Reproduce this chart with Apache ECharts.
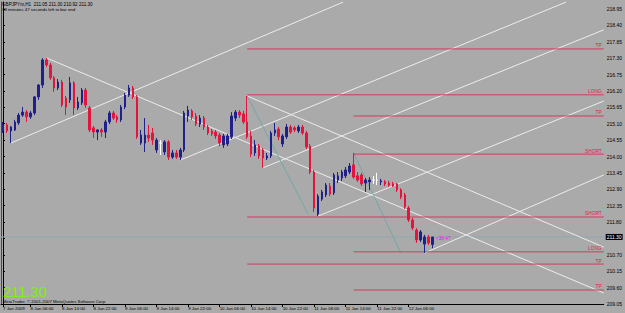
<!DOCTYPE html>
<html><head><meta charset="utf-8">
<script src="https://cdn.jsdelivr.net/npm/echarts@6/dist/echarts.min.js"></script>
<style>html,body{margin:0;padding:0;background:#aaaaaa}#c{width:625px;height:313px}</style>
</head><body><div id="c"></div>
<script>
// ---- data ----
const SLOTS = 153;
const TICK_INDEX = [0, 7, 15, 23, 31, 39, 47, 55, 63, 71, 79, 87, 95, 103];
const TICK_LABELS = ['7 Jan 2009', '8 Jan 06:00', '8 Jan 14:00', '8 Jan 22:00', '9 Jan 06:00', '9 Jan 14:00', '9 Jan 22:00',
  '10 Jan 06:00', '10 Jan 14:00', '10 Jan 22:00', '11 Jan 06:00', '11 Jan 14:00', '11 Jan 22:00', '12 Jan 06:00'];
const Y_MIN = 209.05, Y_MAX = 219.185, Y_STEP = 0.55;

const OPEN = [214.86,215.06,214.86,214.89,215.13,215.39,215.49,215.33,215.46,216.00,
  216.40,217.24,217.07,216.64,216.30,216.50,215.96,215.90,216.47,215.63,
  215.80,216.23,215.63,214.96,214.82,214.89,214.82,215.16,215.46,215.33,
  215.23,215.66,216.06,216.30,216.00,214.45,214.45,214.72,214.79,214.22,
  214.45,214.15,214.49,213.98,214.12,213.98,214.22,215.36,215.53,215.36,
  215.09,215.29,214.99,214.86,214.82,214.72,214.39,214.42,214.66,215.29,
  215.49,215.43,215.16,214.69,214.12,214.35,214.22,213.95,214.02,214.79,
  214.92,214.42,214.66,214.99,214.96,214.86,214.99,214.79,214.35,213.48,
  212.07,212.57,212.71,213.01,212.78,213.21,213.28,213.35,213.48,213.72,
  213.35,213.38,213.11,213.15,213.21,213.21,213.15,213.15,213.11,213.08,
  213.08,212.88,212.71,212.27,211.87,211.53,211.20,211.06,211.30,211.05];
const CLOSE = [215.06,214.86,214.99,215.16,215.39,215.49,215.33,215.46,216.00,216.40,
  217.24,217.07,216.64,216.30,216.50,215.73,215.66,216.47,215.63,215.83,
  216.23,215.73,214.89,214.82,214.89,214.82,215.16,215.46,215.29,215.23,
  215.66,216.06,216.30,216.00,214.66,214.72,214.72,214.62,214.55,214.55,
  214.45,214.49,213.98,214.12,213.98,214.22,215.46,215.56,215.33,215.09,
  215.29,214.99,214.79,214.76,214.69,214.45,214.69,214.69,215.36,215.49,
  215.39,215.16,214.66,214.08,214.39,214.02,213.95,214.02,214.79,214.89,
  214.66,214.69,214.99,214.82,214.89,214.99,214.79,214.32,213.48,212.27,
  212.67,212.81,213.04,212.74,213.38,213.35,213.48,213.55,213.68,213.31,
  213.21,213.08,213.21,213.21,213.21,213.21,213.18,213.08,213.04,213.01,
  212.88,212.64,212.31,211.87,211.60,211.20,211.47,211.30,211.10,211.30];
const HIGH = [215.16,215.13,215.02,215.23,215.46,215.66,215.56,215.53,216.03,216.43,
  217.30,217.31,217.14,216.70,216.60,216.57,216.03,216.67,216.53,216.00,
  216.30,216.30,215.70,215.02,214.92,214.96,215.23,215.53,215.53,215.39,
  215.73,216.13,216.40,216.37,216.06,214.89,215.29,215.06,214.96,214.62,
  214.55,214.55,214.55,214.22,214.22,214.29,215.53,215.70,215.59,215.46,
  215.39,215.36,215.06,214.92,214.89,214.79,214.76,214.76,215.49,215.56,
  215.56,215.53,216.03,214.86,214.55,214.42,214.29,214.12,214.86,215.13,
  214.99,214.76,215.09,215.06,215.02,215.06,215.06,214.86,214.42,213.55,
  212.74,212.88,213.11,213.11,213.45,213.48,213.55,213.65,213.78,214.12,
  213.48,213.45,213.28,213.31,213.35,213.45,213.25,213.21,213.18,213.15,
  213.11,212.94,212.78,212.34,211.94,211.60,211.53,211.37,211.37,211.30];
const LOW = [214.79,214.79,214.45,214.86,215.06,215.33,215.16,215.26,215.39,215.90,
  216.30,217.00,216.57,216.17,216.23,215.66,215.39,215.80,215.39,215.56,
  215.73,215.63,214.82,214.62,214.55,214.66,214.62,215.09,215.23,215.13,
  215.16,215.59,216.00,215.93,214.59,214.39,214.15,214.49,214.39,214.12,
  214.05,214.05,213.88,213.92,213.92,213.88,214.15,215.16,215.23,215.02,
  214.99,214.89,214.72,214.69,214.59,214.35,214.29,214.35,214.59,215.19,
  215.29,215.09,214.59,213.98,214.02,213.92,213.62,213.88,213.95,214.69,
  214.55,214.32,214.59,214.76,214.82,214.79,214.72,214.25,213.41,212.14,
  212.00,212.51,212.64,212.67,212.71,213.11,213.18,213.28,213.41,213.25,
  213.15,213.01,212.81,212.88,213.08,213.04,213.04,213.01,212.98,212.98,
  212.81,212.57,212.24,211.80,211.53,211.10,211.13,210.76,211.03,210.92];

// trend lines: [startIndex, startPrice, endIndex, endPrice]
const WHITE_LINES = [
  [2, 214.45, 86.4, 219.185],
  [45, 213.88, 143.0, 219.185],
  [66, 213.62, 152.5, 218.25],
  [80, 212.00, 152.5, 215.86],
  [107, 210.76, 152.5, 213.38],
  [11, 217.31, 152.5, 209.42],
  [62, 216.03, 152.5, 210.96]
];
const TEAL_LINES = [
  [62, 216.03, 77.5, 212.05],
  [89, 214.12, 101, 210.76]
];
// horizontal levels: name, price, start index
const LEVEL_NAMES = ['TP', 'LONG', 'TP', 'SHORT', 'SHORT', 'LONG', 'TP', 'TP'];
const LEVEL_PRICES = [217.61, 216.07, 215.36, 214.08, 211.97, 210.80, 210.39, 209.52];
const LEVEL_START = [62, 62, 89, 89, 62, 89, 62, 89];
const LAST_PRICE = 211.30;
const CLOCK_TEXT = '<38:47';
const CLOCK_AT = [109.9, 211.25];

// ---- chart ----
const FONT = "'Liberation Sans', Arial, sans-serif";
const BULL = '#20208a', BEAR = '#e4143c', LEVEL_COLOR = '#d23a60';
const chart = echarts.init(document.getElementById('c'), null, {renderer: 'svg', width: 625, height: 313});
const cats = Array.from({length: SLOTS}, (_, i) => 'b' + i);
const tickSet = new Set(TICK_INDEX);
const idxOf = v => parseInt(String(v).slice(1), 10);

const series = [{
  type: 'candlestick', xAxisIndex: 0, yAxisIndex: 0, barWidth: 2,
  data: OPEN.map((o, i) => [o, CLOSE[i], LOW[i], HIGH[i]]),
  itemStyle: {color: BULL, color0: BEAR, borderColor: BULL, borderColor0: BEAR, borderWidth: 1, borderColorDoji: '#ffffff'},
  silent: true, z: 3
}];
// current price line
series.push({
  type: 'line', xAxisIndex: 1, yAxisIndex: 0, silent: true, symbol: 'none', z: 1,
  data: [[-0.5, LAST_PRICE], [SLOTS - 0.5, LAST_PRICE]],
  lineStyle: {color: '#8fa9ae', width: 1},
  endLabel: {show: true, formatter: LAST_PRICE.toFixed(2), color: '#ffffff', backgroundColor: '#000000',
    fontSize: 5, fontFamily: FONT, padding: [1, 1, 0, 1], distance: 2}
});
WHITE_LINES.forEach(l => series.push({
  type: 'line', xAxisIndex: 1, yAxisIndex: 0, symbol: 'none', silent: true, z: 2,
  data: [[l[0], l[1]], [l[2], l[3]]], lineStyle: {color: '#ececec', width: 1}
}));
TEAL_LINES.forEach(l => series.push({
  type: 'line', xAxisIndex: 1, yAxisIndex: 0, symbol: 'none', silent: true, z: 2,
  data: [[l[0], l[1]], [l[2], l[3]]], lineStyle: {color: '#6fa9a6', width: 1}
}));
LEVEL_NAMES.forEach((n, k) => series.push({
  type: 'line', xAxisIndex: 1, yAxisIndex: 0, symbol: 'none', silent: true, z: 2,
  data: [[LEVEL_START[k], LEVEL_PRICES[k]], [SLOTS - 0.5, LEVEL_PRICES[k]]],
  lineStyle: {color: LEVEL_COLOR, width: 1}
}));
// level names, anchored at the right end of each level
series.push({
  type: 'scatter', xAxisIndex: 1, yAxisIndex: 0, symbolSize: 0, silent: true, z: 4,
  itemStyle: {opacity: 1},
  data: LEVEL_NAMES.map((n, k) => ({value: [SLOTS - 0.5, LEVEL_PRICES[k]], name: n})),
  label: {show: true, position: [-2, -0.5], align: 'right', verticalAlign: 'bottom', formatter: p => p.name,
    color: '#f0104a', fontSize: 4.8, fontFamily: FONT, opacity: 1}
});
series.push({
  type: 'scatter', xAxisIndex: 1, yAxisIndex: 0, symbolSize: 0, silent: true, z: 4,
  data: [CLOCK_AT],
  label: {show: true, position: 'right', distance: 0, formatter: CLOCK_TEXT, color: '#ff00ff', fontSize: 4.8, fontFamily: FONT, opacity: 1}
});

chart.setOption({
  animation: false,
  backgroundColor: '#aaaaaa',
  grid: {left: 1, right: 19, top: 2, bottom: 9, show: false},
  xAxis: [{
    type: 'category', data: cats, boundaryGap: true,
    axisLine: {show: true, lineStyle: {color: '#000', width: 1}},
    axisTick: {show: true, alignWithLabel: true, length: 3, interval: i => tickSet.has(i), lineStyle: {color: '#000'}},
    axisLabel: {show: true, interval: i => tickSet.has(i), align: 'left', margin: 2, fontSize: 4.4, color: '#000', fontFamily: FONT,
      formatter: v => { const k = TICK_INDEX.indexOf(idxOf(v)); return k >= 0 ? TICK_LABELS[k] : ''; }},
    splitLine: {show: false}
  }, {
    type: 'value', min: -0.5, max: SLOTS - 0.5, show: false
  }],
  yAxis: [{
    type: 'value', position: 'right', min: Y_MIN, max: Y_MAX, interval: Y_STEP, scale: true,
    axisLine: {show: true, lineStyle: {color: '#000', width: 1}},
    axisTick: {show: true, length: 2, lineStyle: {color: '#000'}},
    axisLabel: {show: true, margin: 3, fontSize: 5, color: '#000', fontFamily: FONT, showMaxLabel: false,
      formatter: v => v.toFixed(2)},
    splitLine: {show: false}
  }, {
    type: 'value', position: 'left', min: Y_MIN, max: Y_MAX,
    axisLine: {show: true, lineStyle: {color: '#4a4a4a', width: 1}},
    axisTick: {show: false}, axisLabel: {show: false}, splitLine: {show: false}
  }],
  graphic: [
    {type: 'text', x: 2, y: 4.4, z: 10, style: {text: 'GBPJPYm,H1  211.05 211.30 210.92 211.30', fill: '#000', font: '4.6px ' + FONT, verticalAlign: 'middle'}},
    {type: 'text', x: 2, y: 9.8, z: 10, style: {text: '38 minutes 47 seconds left to bar end', fill: '#000', font: '4.4px ' + FONT, verticalAlign: 'middle'}},
    {type: 'text', x: 3, y: 292, z: 10, style: {text: '211.30', fill: '#7cf400', font: '14.6px ' + FONT, verticalAlign: 'middle'}},
    {type: 'text', x: 2.7, y: 301, z: 10, style: {text: 'MetaTrader, © 2001-2007 MetaQuotes Software Corp.', fill: '#000', font: '4.3px ' + FONT, verticalAlign: 'middle'}}
  ],
  series: series
});
</script></body></html>
